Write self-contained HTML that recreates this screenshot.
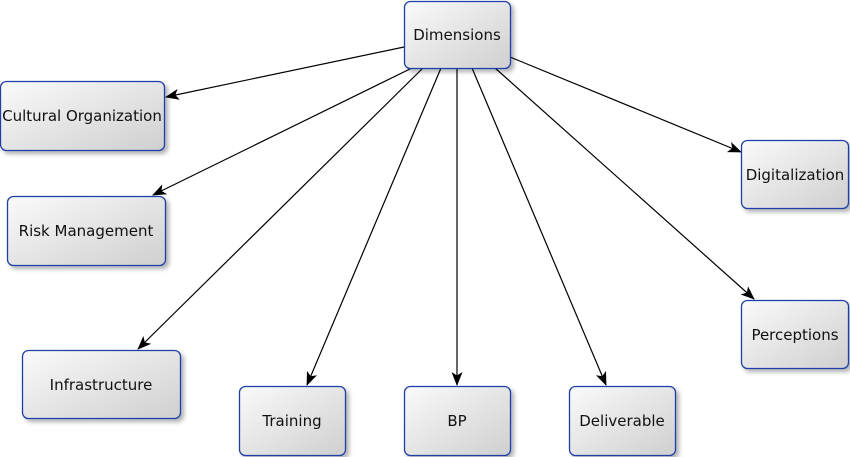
<!DOCTYPE html>
<html><head><style>body{margin:0;background:#fff}svg{display:block}text{font-family:"DejaVu Sans","Liberation Sans",sans-serif;font-size:15px;fill:#111}</style></head><body>
<svg width="850" height="457" xmlns="http://www.w3.org/2000/svg">
<defs>
<linearGradient id="g" x1="0" y1="0" x2="1" y2="1"><stop offset="0" stop-color="#fafafa"/><stop offset="1" stop-color="#cfcfcf"/></linearGradient>
<marker id="a" markerWidth="14" markerHeight="11" refX="13" refY="5.5" orient="auto" markerUnits="userSpaceOnUse"><path d="M0,0 L14,5.5 L0,11 L3.5,5.5 Z" fill="#000"/></marker>
<filter id="s" x="-10%" y="-10%" width="130%" height="130%"><feDropShadow dx="3" dy="3" stdDeviation="2" flood-color="#000" flood-opacity="0.3"/></filter>
</defs>
<g stroke="#000" stroke-width="1.2" marker-end="url(#a)">
<line x1="404" y1="47" x2="166" y2="97"/>
<line x1="412" y1="68" x2="153" y2="195"/>
<line x1="423" y1="68" x2="138" y2="349"/>
<line x1="441" y1="68" x2="307" y2="385"/>
<line x1="457" y1="68" x2="457" y2="385"/>
<line x1="472" y1="68" x2="606" y2="385"/>
<line x1="495" y1="68" x2="754" y2="299"/>
<line x1="510" y1="57" x2="741" y2="152"/>
</g>
<g fill="url(#g)" stroke="#1f3fa8" stroke-width="1.3" filter="url(#s)">
<rect x="404.5" y="1.5" width="106" height="67" rx="6"/>
<rect x="0.5" y="81.5" width="164" height="69" rx="6"/>
<rect x="7.5" y="196.5" width="158" height="69" rx="6"/>
<rect x="22.5" y="350.5" width="158" height="68" rx="6"/>
<rect x="239.5" y="386.5" width="106" height="69" rx="6"/>
<rect x="404.5" y="386.5" width="106" height="69" rx="6"/>
<rect x="569.5" y="386.5" width="106" height="69" rx="6"/>
<rect x="741.5" y="140.5" width="107" height="68" rx="6"/>
<rect x="741.5" y="300.5" width="107" height="68" rx="6"/>
</g>
<g text-anchor="middle">
<text x="457" y="40">Dimensions</text>
<text x="82" y="121">Cultural Organization</text>
<text x="86" y="236">Risk Management</text>
<text x="101" y="390">Infrastructure</text>
<text x="292" y="426">Training</text>
<text x="457" y="426">BP</text>
<text x="622" y="426">Deliverable</text>
<text x="795" y="180">Digitalization</text>
<text x="795" y="340">Perceptions</text>
</g>
</svg>
</body></html>
